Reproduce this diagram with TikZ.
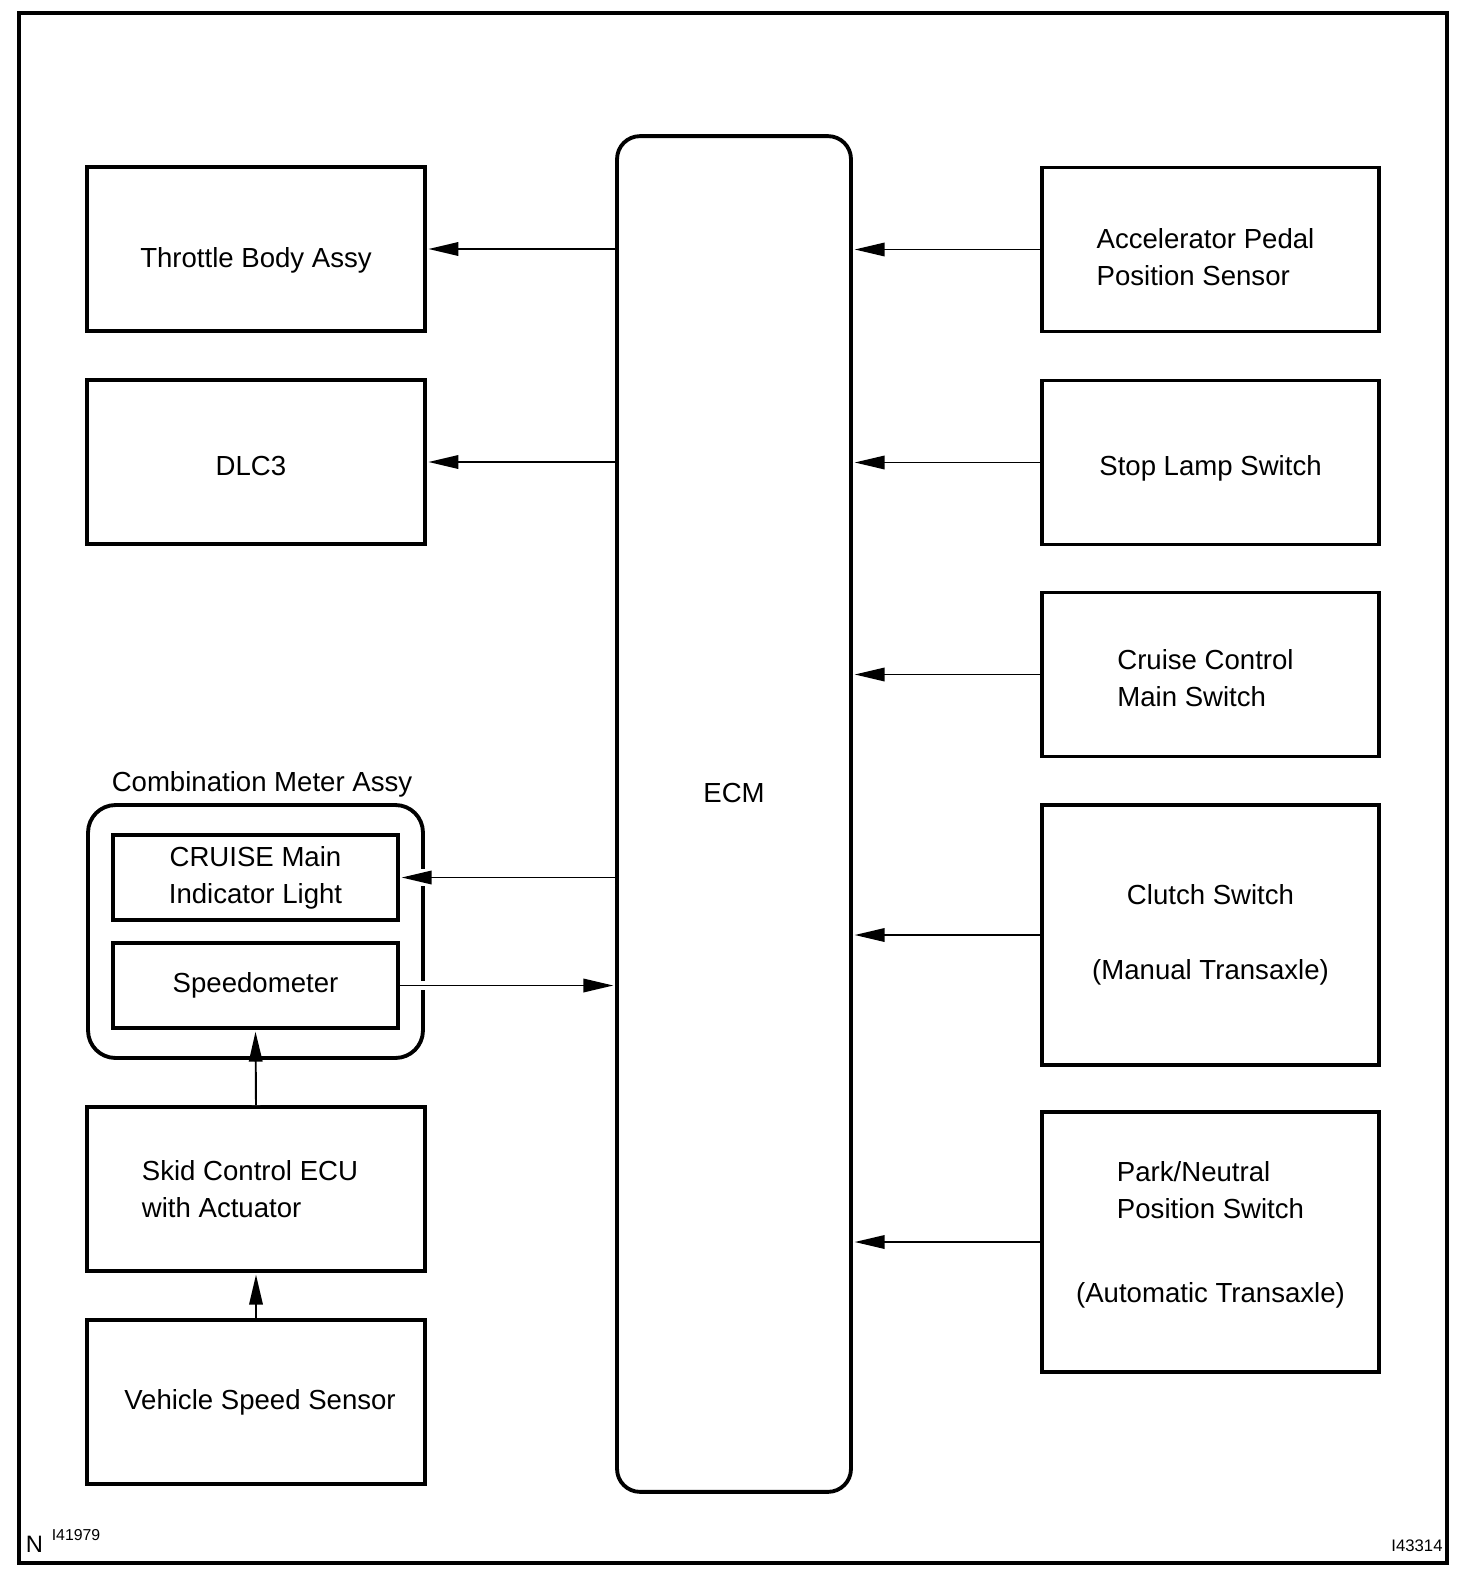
\documentclass[tikz,border=0pt]{standalone}
\usepackage{fontspec}
\setmainfont{Liberation Sans}
\usetikzlibrary{arrows.meta}

\begin{document}
\begin{tikzpicture}[x=0.02cm, y=-0.02cm,
    every node/.style={font=\fontsize{15.7}{21}\selectfont},
    every label/.style={align=left},
    box/.style={draw, line width=2.2pt, minimum width=6.75cm, minimum height=3.28cm, inner sep=0pt},
    tallbox/.style={box, minimum height=5.2cm},
    lampbox/.style={draw, line width=2.2pt, minimum width=5.7cm, minimum height=1.7cm, inner sep=0pt},
    sig/.style={line width=1.1pt, -{Triangle[length=0.6cm, width=0.27cm]}, shorten >=1pt},
    gapline/.style={preaction={draw=white, line width=#1, -}},
    gapline/.default=5pt]
        \useasboundingbox (0,0) rectangle (1472,1588);
        \draw[line width=2.6pt] (19,13) rectangle (1447,1563);

        % ECM in the middle
        \node[draw, line width=2.2pt, rounded corners=0.46cm, minimum width=4.68cm, minimum height=27.12cm,
              label={[yshift=0.42cm]center:ECM}] (ecm) at (734,814) {};

        % outputs on the left
        \node[box, label={[shift={(0,11)}]center:Throttle Body Assy}] (throttle) at (256,249) {};
        \node[box, label={[shift={(-5,4)}]center:DLC3}] (dlc) at (256,462) {};

        % Combination Meter Assy
        \node[draw, line width=2.2pt, rounded corners=0.55cm, minimum width=6.7cm, minimum height=5.06cm] (meter) at (255.5,931.5) {};
        \node[anchor=south] (metertitle) at (262,803) {Combination Meter Assy};
        \node[lampbox, align=center] (lamp) at (255.5,877.5) {CRUISE Main\\Indicator Light};
        \node[lampbox] (speedo) at (255.5,985.5) {Speedometer};

        \node[box, label={[shift={(-6,0)}]center:Skid Control ECU\\with Actuator}] (skid) at (256,1189) {};
        \node[box, label={[shift={(4,0)}]center:Vehicle Speed Sensor}] (vss) at (256,1402) {};

        % inputs on the right
        \node[box, label={[shift={(-5,8)}]center:Accelerator Pedal\\Position Sensor}] (apps) at (1210.5,249.5) {};
        \node[box, label={[shift={(0,6)}]center:Stop Lamp Switch}] (stoplamp) at (1210.5,462.5) {};
        \node[box, label={[shift={(-5,4)}]center:Cruise Control\\Main Switch}] (mainsw) at (1210.5,674.5) {};
        \node[tallbox, align=center] (clutch) at (1210.5,935) {Clutch Switch\\[22pt](Manual Transaxle)};
        \node[tallbox] (pnp) at (1210.5,1242) {};
        \node[align=center] (pnptext) at (1210.5,1232)
            {\begin{tabular}{@{}l@{}}Park/Neutral\\Position Switch\end{tabular}\\[29pt](Automatic Transaxle)};

        % connectors
        \draw[sig] (ecm.west |- throttle.east) -- (throttle.east);
        \draw[sig] (ecm.west |- dlc.east) -- (dlc.east);
        \draw[sig, gapline=10pt] (ecm.west |- lamp.east) -- (lamp.east);
        \draw[sig, gapline] (speedo.east) -- (speedo.east -| ecm.west);
        \draw[sig, gapline] (skid.north) -- (speedo.south);
        \draw[sig] (vss.north) -- (skid.south);
        \foreach \src in {apps, stoplamp, mainsw, clutch, pnp}
            \draw[sig] (\src.west) -- (\src.west -| ecm.east);

        % figure numbers
        \node[font=\fontsize{13.5}{16}\selectfont] (north) at (34.5,1544) {N};
        \node[font=\fontsize{9}{11}\selectfont] (fignum) at (76,1535) {I41979};
        \node[font=\fontsize{9.5}{11}\selectfont] (plate) at (1417,1546) {I43314};
      \end{tikzpicture}
\end{document}
